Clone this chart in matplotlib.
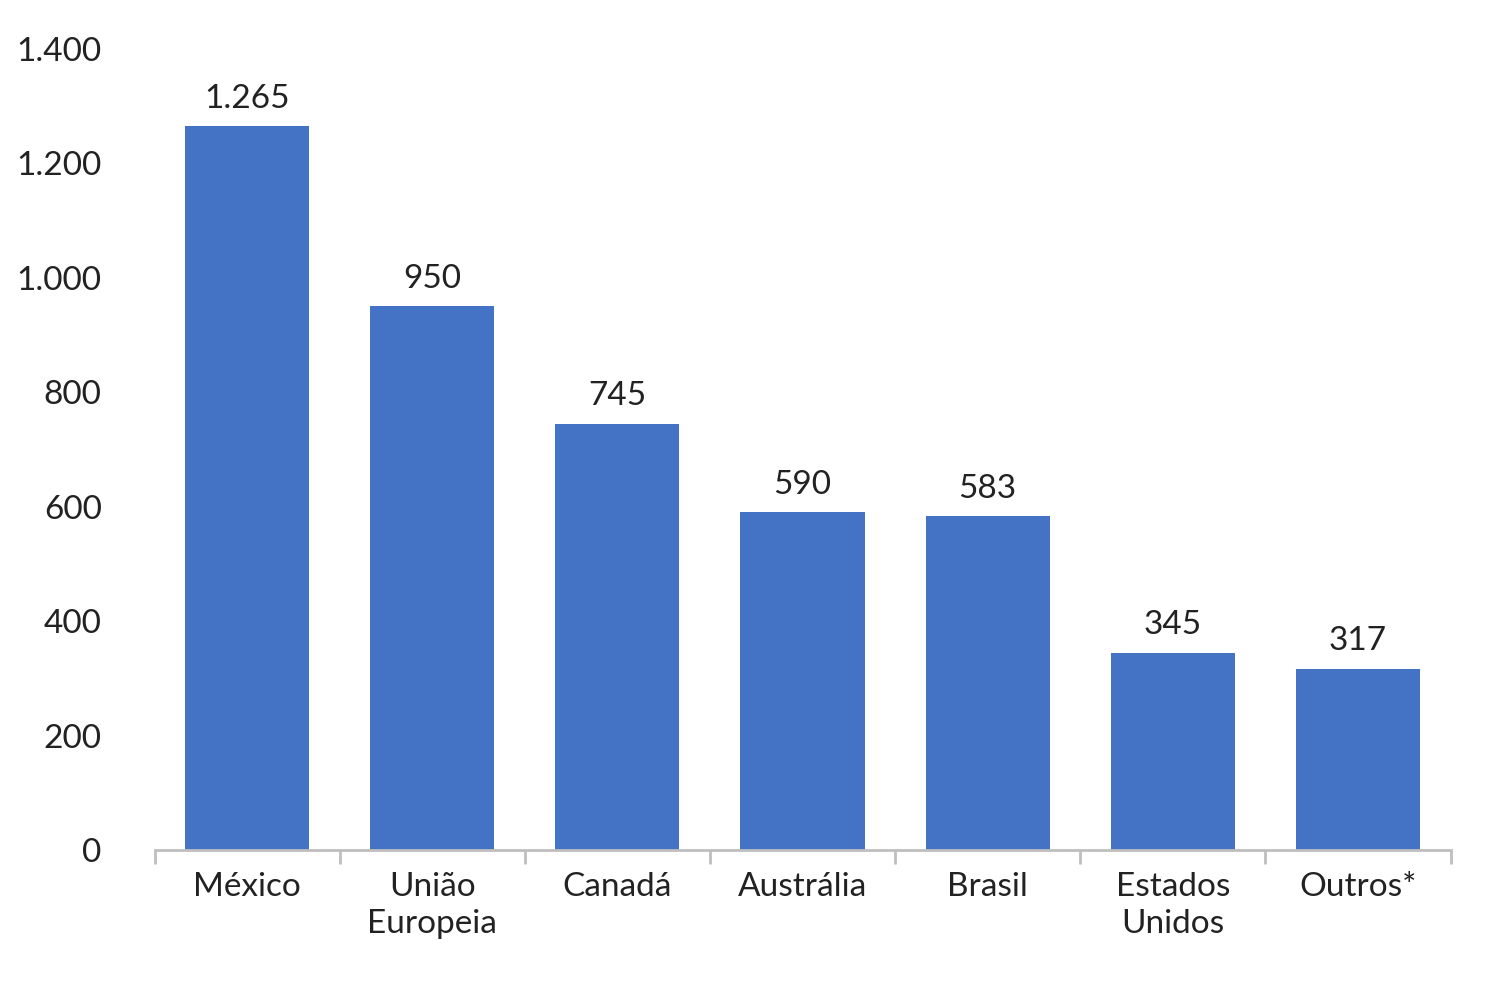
import matplotlib
matplotlib.use("Agg")
import matplotlib.pyplot as plt
import numpy as np

categories = ["México", "União\nEuropeia", "Canadá", "Austrália", "Brasil", "Estados\nUnidos", "Outros*"]
values = [1265, 950, 745, 590, 583, 345, 317]
yticks = [0, 200, 400, 600, 800, 1000, 1200, 1400]

def fmt(v):
    return f"{v:,}".replace(",", ".")

plt.rcParams['font.family'] = ['Lato', 'DejaVu Sans']
fig = plt.figure(figsize=(15, 10), dpi=100)
ax = fig.add_axes([0.103, 0.15, 0.864, 0.801])
x = np.arange(len(categories))
ax.bar(x, values, width=0.67, color="#4472C4", zorder=2)
for xi, v in zip(x, values):
    ax.text(xi, v + 22, fmt(v), ha="center", va="bottom", fontsize=24, color="#222222")
ax.set_xlim(-0.5, len(categories) - 0.5)
ax.set_ylim(0, 1400)
ax.set_yticks(yticks)
ax.set_yticklabels([fmt(t) for t in yticks], fontsize=24, color="#222222")
ax.set_xticks(x)
ax.set_xticklabels(categories, fontsize=24, color="#222222", linespacing=1.3)
ax.set_xticks(np.arange(-0.5, len(categories)), minor=True)
ax.tick_params(axis="x", which="major", length=0, pad=16)
ax.tick_params(axis="x", which="minor", length=10, color="#BFBFBF", width=2)
ax.tick_params(axis="y", length=0, pad=38)
for s in ["left", "right", "top"]:
    ax.spines[s].set_visible(False)
ax.spines["bottom"].set_color("#BFBFBF")
ax.spines["bottom"].set_linewidth(2)
for lbl in ax.get_yticklabels():
    lbl.set_horizontalalignment("right")
fig.savefig("out.png", dpi=100, facecolor="white")
